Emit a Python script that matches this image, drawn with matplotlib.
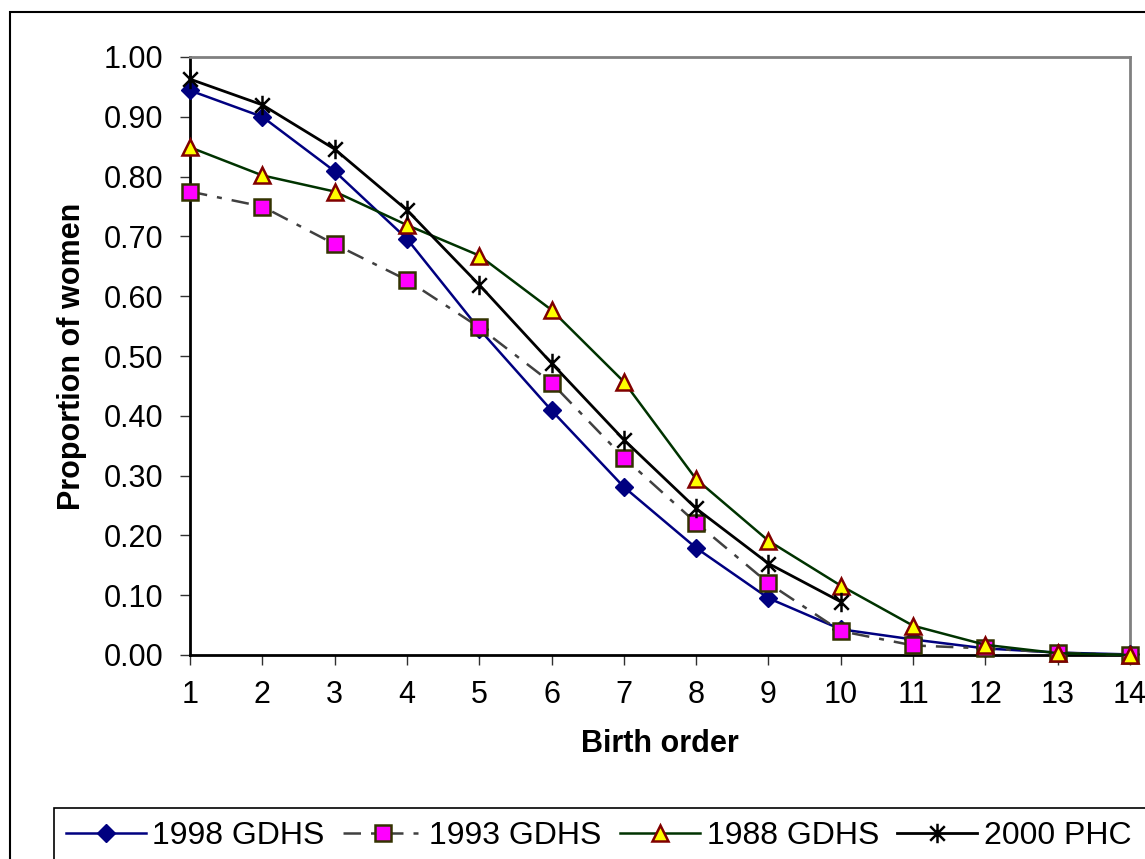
import matplotlib
matplotlib.use("Agg")
import matplotlib.pyplot as plt
from matplotlib.path import Path
from matplotlib.patches import Rectangle

birth_order = list(range(1, 15))
gdhs_1998 = [0.944, 0.900, 0.809, 0.696, 0.545, 0.409, 0.281, 0.179, 0.095, 0.043, 0.026, 0.011, 0.004, 0.001]
gdhs_1993 = [0.775, 0.750, 0.687, 0.627, 0.548, 0.455, 0.330, 0.221, 0.120, 0.040, 0.016, 0.011, 0.004, 0.000]
gdhs_1988 = [0.849, 0.802, 0.775, 0.719, 0.668, 0.577, 0.457, 0.294, 0.191, 0.116, 0.049, 0.017, 0.003, 0.000]
phc_2000_x = list(range(1, 11))
phc_2000 = [0.963, 0.920, 0.846, 0.744, 0.619, 0.488, 0.360, 0.245, 0.153, 0.089]

y_ticks = [i / 10 for i in range(11)]

plt.rcParams['font.family'] = ['Liberation Sans', 'DejaVu Sans']

W, H = 1145, 859
fig = plt.figure(figsize=(W / 100, H / 100), dpi=100)

# outer chart frame
fig.patches.append(Rectangle((10 / W, -0.1), 1.2, 1 - 12 / H + 0.1, transform=fig.transFigure,
                             fill=False, edgecolor='black', linewidth=1.5))
# legend frame
fig.patches.append(Rectangle((54 / W, -0.1), 1.2, 1 - 808 / H + 0.1, transform=fig.transFigure,
                             fill=False, edgecolor='black', linewidth=1.2))

ax = fig.add_axes([190 / W, 1 - 655 / H, (1130 - 190) / W, (655 - 57) / H])

star_path = Path([(0, -1), (0, 1), (-0.75, -0.75), (0.75, 0.75), (-0.75, 0.75), (0.75, -0.75)],
                 [Path.MOVETO, Path.LINETO, Path.MOVETO, Path.LINETO, Path.MOVETO, Path.LINETO])

ax.plot(birth_order, gdhs_1998, color='#000080', lw=1.8, marker='D', ms=9,
        mfc='#000080', mec='#000080', label='1998 GDHS', clip_on=False, zorder=3)
ax.plot(birth_order, gdhs_1993, color='#404040', lw=1.8, dashes=(7, 4, 2, 4), marker='s', ms=11,
        mfc='#FF00FF', mec='#333300', mew=1.8, label='1993 GDHS', clip_on=False, zorder=3)
ax.plot(birth_order, gdhs_1988, color='#003300', lw=1.8, marker='^', ms=12,
        mfc='#FFFF00', mec='#800000', mew=1.8, label='1988 GDHS', clip_on=False, zorder=4)
ax.plot(phc_2000_x, phc_2000, color='black', lw=2, marker=star_path, ms=14,
        mfc='none', mec='black', mew=1.8, label='2000 PHC', clip_on=False, zorder=5)

ax.set_xlim(1, 14)
ax.set_ylim(0, 1)
ax.set_xticks(birth_order)
ax.set_yticks(y_ticks)
ax.set_yticklabels([f"{v:.2f}" for v in y_ticks])
ax.tick_params(axis='both', labelsize=22, direction='out', length=7, width=1, color='#303030')
ax.tick_params(axis='y', pad=12)
ax.tick_params(axis='x', pad=11)

for s in ['left', 'bottom']:
    ax.spines[s].set_color('black')
    ax.spines[s].set_linewidth(2)
for s in ['top', 'right']:
    ax.spines[s].set_color('#808080')
    ax.spines[s].set_linewidth(2)

ax.set_xlabel('Birth order', fontsize=22, fontweight='bold', labelpad=14)
ax.set_ylabel('Proportion of women', fontsize=22, fontweight='bold', labelpad=12)

handles, labels = ax.get_legend_handles_labels()
fig.legend(handles, labels, loc='center left', bbox_to_anchor=(66 / W, 1 - 836 / H), ncol=4,
           frameon=False, fontsize=23, handlelength=2.5, handletextpad=0.2, columnspacing=0.58,
           borderaxespad=0, borderpad=0)

fig.savefig('out.png', dpi=100)
